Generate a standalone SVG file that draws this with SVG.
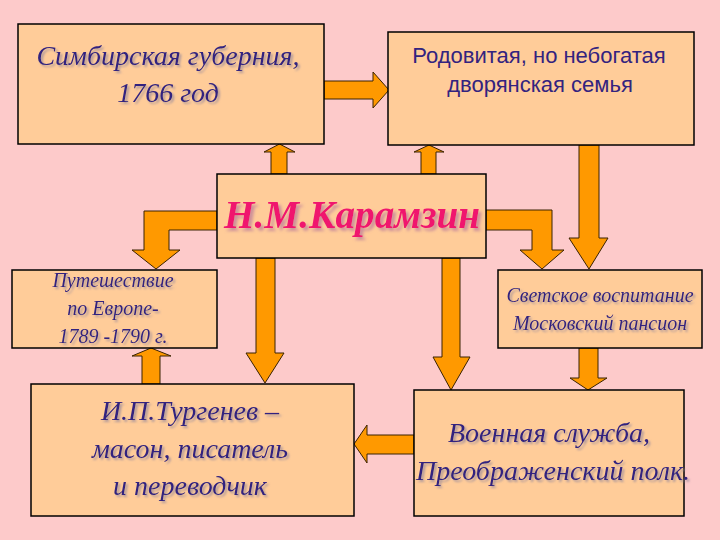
<svg xmlns="http://www.w3.org/2000/svg" width="720" height="540" viewBox="0 0 720 540">
<defs>
<filter id="sh" x="-10%" y="-30%" width="130%" height="160%">
<feDropShadow dx="2" dy="2" stdDeviation="1" flood-color="#9a8a9a" flood-opacity="0.8"/>
</filter>
<filter id="shk" x="-10%" y="-30%" width="130%" height="160%">
<feDropShadow dx="3" dy="3" stdDeviation="1.5" flood-color="#c88a9a" flood-opacity="0.9"/>
</filter>
<style>
.box{fill:#FFCC99;stroke:#000;stroke-width:1.5}
.arr{fill:#FF9900;stroke:#3a2200;stroke-width:1}
.scr{font-family:"Liberation Serif","DejaVu Serif",serif;font-style:italic;fill:#33237f;text-anchor:middle;filter:url(#sh)}
.sans{font-family:"Liberation Sans",Arial,sans-serif;fill:#33237f;text-anchor:middle;font-size:22px}
.kar{font-family:"Liberation Serif","DejaVu Serif",serif;font-style:italic;font-weight:bold;fill:#F0146E;text-anchor:middle;font-size:40px;filter:url(#shk)}
</style>
</defs>
<rect width="720" height="540" fill="#FDCACA"/>
<g id="connectors">
<polygon class="arr" points="324,81 373,81 373,72 389,90 373,108 373,99 324,99"/>
<polygon class="arr" points="271,174 271,152 264,152 279.5,144 295,152 287,152 287,174"/>
<polygon class="arr" points="421,174 421,152 414,152 429,145 444,152 436,152 436,174"/>
<polygon class="arr" points="579,145 599,145 599,238 608,238 589,269 569,238 579,238"/>
<polygon class="arr" points="486,210 552,210 552,250 564,250 542,269 520,250 532,250 532,230 486,230"/>
<polygon class="arr" points="217,211 144,211 144,250 132,250 156,269 180,250 169,250 169,230 217,230"/>
<polygon class="arr" points="256,258 275,258 275,353 284,353 265,383 246,353 256,353"/>
<polygon class="arr" points="142,384 142,356 132,356 151,348 171,356 160,356 160,384"/>
<polygon class="arr" points="442,258 460,258 460,357 470,357 451,390 433,357 442,357"/>
<polygon class="arr" points="579,348 598,348 598,378 607,378 588,390 570,378 579,378"/>
<polygon class="arr" points="414,435 367,435 367,425 354,444 367,463 367,454 414,454"/>
</g>
<g id="simbirsk">
<rect class="box" x="18" y="24" width="306" height="120"/>
<text class="scr" font-size="28" x="168" y="65">Симбирская губерния,</text>
<text class="scr" font-size="28" x="168" y="102">1766 год</text>
</g>
<g id="family">
<rect class="box" x="388" y="32" width="306" height="113"/>
<text class="sans" x="539" y="63">Родовитая, но небогатая</text>
<text class="sans" x="540" y="92">дворянская семья</text>
</g>
<g id="karamzin">
<rect class="box" x="217" y="174" width="269" height="84"/>
<text class="kar" x="352" y="228" textLength="256" lengthAdjust="spacingAndGlyphs">Н.М.Карамзин</text>
</g>
<g id="travel">
<rect class="box" x="12" y="270" width="205" height="78"/>
<text class="scr" font-size="20" x="113" y="287">Путешествие</text>
<text class="scr" font-size="20" x="113" y="315">по Европе-</text>
<text class="scr" font-size="20" x="113" y="343">1789 -1790 г.</text>
</g>
<g id="education">
<rect class="box" x="498" y="270" width="204" height="78"/>
<text class="scr" font-size="20" x="600" y="302">Светское воспитание</text>
<text class="scr" font-size="20" x="600" y="330">Московский пансион</text>
</g>
<g id="turgenev">
<rect class="box" x="31" y="384" width="323" height="132"/>
<text class="scr" font-size="28" x="190" y="420">И.П.Тургенев –</text>
<text class="scr" font-size="28" x="190" y="458">масон, писатель</text>
<text class="scr" font-size="28" x="190" y="495">и переводчик</text>
</g>
<g id="military">
<rect class="box" x="414" y="390" width="270" height="126"/>
<text class="scr" font-size="28" x="549" y="442">Военная служба,</text>
<text class="scr" font-size="28" x="553" y="480">Преображенский полк.</text>
</g>
</svg>
